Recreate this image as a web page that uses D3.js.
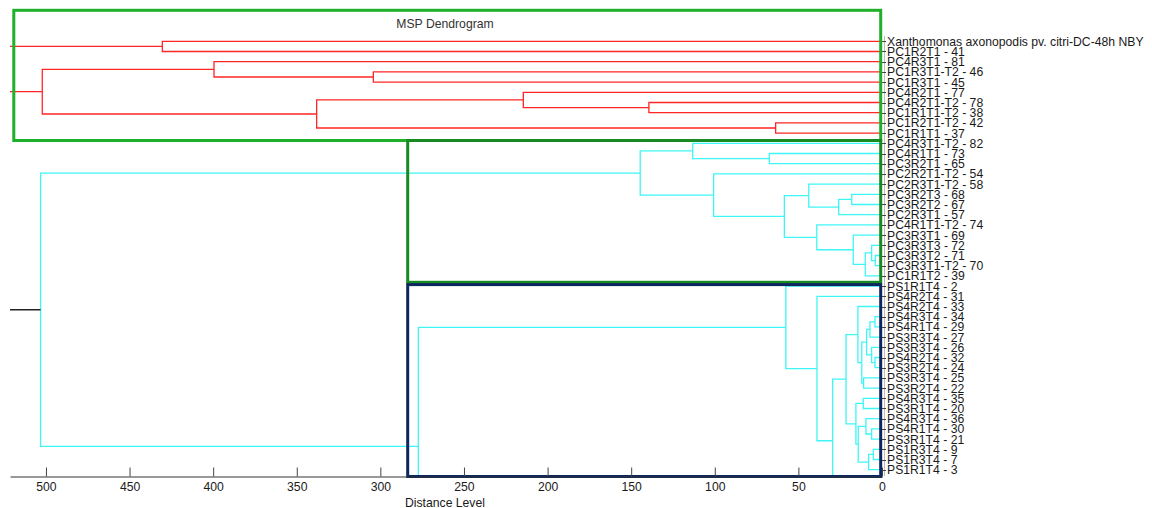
<!DOCTYPE html>
<html><head><meta charset="utf-8">
<script src="https://cdn.jsdelivr.net/npm/d3@7"></script>
<style>body{margin:0;background:#fff;overflow:hidden}</style>
</head><body><svg id="c" width="1152" height="508"></svg>
<script>
// ---------- data ----------
const leafLabels = [
  "Xanthomonas axonopodis pv. citri-DC-48h NBY","PC1R2T1 - 41","PC4R3T1 - 81","PC1R3T1-T2 - 46",
  "PC1R3T1 - 45","PC4R2T1 - 77","PC4R2T1-T2 - 78","PC1R1T1-T2 - 38","PC1R2T1-T2 - 42","PC1R1T1 - 37",
  "PC4R3T1-T2 - 82","PC4R1T1 - 73","PC3R2T1 - 65","PC2R2T1-T2 - 54","PC2R3T1-T2 - 58","PC3R2T3 - 68",
  "PC3R2T2 - 67","PC2R3T1 - 57","PC4R1T1-T2 - 74","PC3R3T1 - 69","PC3R3T3 - 72","PC3R3T2 - 71",
  "PC3R3T1-T2 - 70","PC1R1T2 - 39",
  "PS1R1T4 - 2","PS4R2T4 - 31","PS4R2T4 - 33","PS4R3T4 - 34","PS4R1T4 - 29","PS3R3T4 - 27",
  "PS3R3T4 - 26","PS4R2T4 - 32","PS3R2T4 - 24","PS3R3T4 - 25","PS3R2T4 - 22","PS4R3T4 - 35",
  "PS3R1T4 - 20","PS4R3T4 - 36","PS4R1T4 - 30","PS3R1T4 - 21","PS1R3T4 - 9","PS1R3T4 - 7","PS1R1T4 - 3"
];
// clusters by leaf index range (the last cluster also owns branches cut off below the axis)
const clusterFirstLeaf = [0, 10];
// branches that continue below the visible area: [slot position in leaf units, height]
const clippedBranches = [[45.2, 0], [51.4, 0]];
// merges: [childA, childB, distance]  L# leaf, M# earlier merge, X# clipped branch
const merges = [
  ["L0","L1",430.4],   // M0
  ["L3","L4",304.2],   // M1
  ["L2","M1",399.5],   // M2
  ["L6","L7",139.4],   // M3
  ["L5","M3",214.5],   // M4
  ["L8","L9",63.6],    // M5
  ["M4","M5",338.1],   // M6
  ["M2","M6",502.2],   // M7
  ["L11","L12",67.4],  // M8
  ["L10","M8",113.2],  // M9
  ["L15","L16",18.1],  // M10
  ["M10","L17",25.9],  // M11
  ["L14","M11",43.8],  // M12
  ["L21","L22",4.0],   // M13
  ["L20","M13",6.2],   // M14
  ["M14","L23",10.0],  // M15
  ["L19","M15",17.2],  // M16
  ["L18","M16",39.0],  // M17
  ["M12","M17",58.4],  // M18
  ["L13","M18",100.7], // M19
  ["M9","M19",144.6],  // M20
  ["L27","L28",4.2],   // M21
  ["M21","L29",7.2],   // M22
  ["L31","L32",4.2],   // M23
  ["L30","M23",6.2],   // M24
  ["M22","M24",9.2],   // M25
  ["L33","L34",11.0],  // M26
  ["M25","M26",12.1],  // M27
  ["L26","M27",14.4],  // M28
  ["L35","L36",11.2],  // M29
  ["L38","L39",6.2],   // M30
  ["L37","M30",9.6],   // M31
  ["L40","L41",5.2],   // M32
  ["M32","L42",8.0],   // M33
  ["M31","M33",14.2],  // M34
  ["M29","M34",15.6],  // M35
  ["M28","M35",21.5],  // M36
  ["M36","X0",29.5],   // M37
  ["L25","M37",38.9],  // M38
  ["L24","M38",57.5],  // M39
  ["M39","X1",277.3],  // M40
  ["M20","M40",503.2], // M41
  ["M0","M7",540],     // M42
  ["M42","M41",580]    // M43
];
const xTicks = [500,450,400,350,300,250,200,150,100,50,0];

// ---------- layout ----------
const svg = d3.select("#c");
const FONT = "'Liberation Sans', Arial, sans-serif";
const x = d3.scaleLinear().domain([0, 521.5]).range([882, 10]);
const y = d3.scaleLinear().domain([0, leafLabels.length - 1]).range([41.3, 469.7]);
const clusterColors = ["#ff2626", "#3ff6f6"];

const nodes = {};
leafLabels.forEach((l, i) => nodes["L"+i] = {pos: i, h: 0, leaves: [i]});
clippedBranches.forEach((c, i) => nodes["X"+i] = {pos: c[0], h: c[1], leaves: [leafLabels.length + i]});
merges.forEach((m, i) => {
  const a = nodes[m[0]], b = nodes[m[1]];
  nodes["M"+i] = {pos: (a.pos + b.pos) / 2, h: m[2], a, b, leaves: a.leaves.concat(b.leaves)};
});
function clusterOf(leaf) {
  let c = 0;
  clusterFirstLeaf.forEach((f, i) => { if (leaf >= f) c = i; });
  return c;
}
function colorOf(node) {
  const cs = new Set(node.leaves.map(clusterOf));
  return cs.size === 1 ? clusterColors[[...cs][0]] : "#222";
}

svg.append("defs").append("clipPath").attr("id", "plot")
  .append("rect").attr("x", 10).attr("y", 0).attr("width", 873).attr("height", 476);

const g = svg.append("g").attr("clip-path", "url(#plot)");
merges.forEach((m, i) => {
  const n = nodes["M"+i];
  const xa = x(n.a.h), xb = x(n.b.h), xm = x(n.h);
  const ya = y(n.a.pos), yb = y(n.b.pos);
  g.append("path")
    .attr("d", `M${xa},${ya}H${xm}V${yb}H${xb}`)
    .attr("fill", "none")
    .attr("stroke", colorOf(n))
    .attr("stroke-width", 1.3);
});

// leaf ticks and right axis line
svg.append("line").attr("x1", 884.5).attr("x2", 884.5).attr("y1", 36).attr("y2", 476)
  .attr("stroke", "#bbb").attr("stroke-width", 1);
svg.append("g").selectAll("line").data(leafLabels).join("line")
  .attr("x1", 882).attr("x2", 886)
  .attr("y1", (d, i) => Math.round(y(i)) + 0.5).attr("y2", (d, i) => Math.round(y(i)) + 0.5)
  .attr("stroke", "#444").attr("stroke-width", 1);

// leaf labels
svg.append("g").selectAll("text").data(leafLabels).join("text")
  .attr("x", 887).attr("y", (d, i) => y(i)).attr("dy", "0.37em")
  .attr("font-family", FONT).attr("font-size", 12.2).attr("fill", "#1a1a1a")
  .text(d => d);

// boxes
const boxes = [
  {x0: 13.8, y0: 10.3, x1: 880.7, y1: 140.5, c: "#1fb02a"},
  {x0: 407.7, y0: 140.5, x1: 880.7, y1: 282.3, c: "#178a22"},
  {x0: 407.7, y0: 284.6, x1: 880.7, y1: 476.5, c: "#0c2660"}
];
svg.append("g").selectAll("rect").data(boxes).join("rect")
  .attr("x", d => d.x0).attr("y", d => d.y0)
  .attr("width", d => d.x1 - d.x0).attr("height", d => d.y1 - d.y0)
  .attr("fill", "none").attr("stroke", d => d.c).attr("stroke-width", 3);

// axis
const axis = d3.axisBottom(x).tickValues(xTicks).tickSize(-9).tickSizeOuter(0).tickPadding(5.5);
const ax = svg.append("g").attr("transform", "translate(0,476.5)").call(axis);
ax.select(".domain").attr("stroke", "#333");
ax.selectAll(".tick line").attr("stroke", "#444");
ax.selectAll(".tick text").attr("font-family", FONT).attr("font-size", 12.2).attr("fill", "#1a1a1a");

svg.append("text").attr("x", 445).attr("y", 506.5).attr("text-anchor", "middle")
  .attr("font-family", FONT).attr("font-size", 12.2).attr("fill", "#1a1a1a").text("Distance Level");
svg.append("text").attr("x", 445).attr("y", 28).attr("text-anchor", "middle")
  .attr("font-family", FONT).attr("font-size", 12.2).attr("fill", "#333").text("MSP Dendrogram");
</script></body></html>
